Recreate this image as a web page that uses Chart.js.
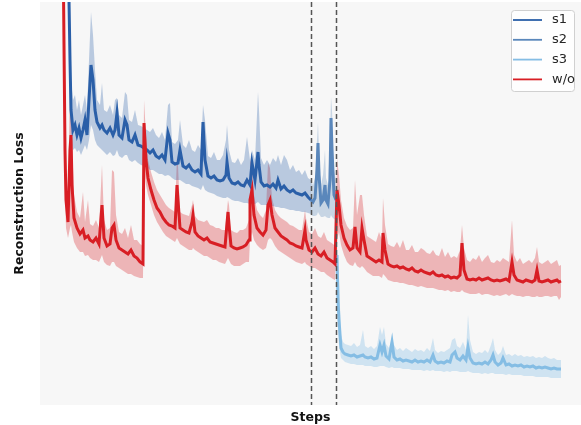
<!DOCTYPE html>
<html>
<head>
<meta charset="utf-8">
<script src="https://cdn.jsdelivr.net/npm/chart.js@4.4.1/dist/chart.umd.min.js"></script>
<style>
  html, body { margin: 0; padding: 0; background: #fff; }
  #wrap { width: 581px; height: 425px; }
</style>
</head>
<body>
<div id="wrap"><canvas id="chart" width="581" height="425"></canvas></div>
<script>
// steps where the training phase changes (dashed lines)
const phaseSteps = [27100, 29600]

// w/o : baseline run
const woSteps = [2300, 2500, 2600, 2800, 3000, 3100, 3200, 3400, 3700, 4000, 4300, 4500, 4800, 5000, 5300, 5600, 5900, 6200, 6400, 6700, 7000, 7200, 7400, 7600, 7900, 8200, 8500, 8800, 9100, 9400, 9700, 10000, 10300, 10400, 10600, 10800, 11100, 11400, 11700, 12000, 12300, 12600, 12900, 13200, 13500, 13700, 13800, 14000, 14300, 14600, 14900, 15200, 15300, 15500, 15800, 16100, 16400, 16700, 17000, 17300, 17600, 17900, 18200, 18500, 18800, 18900, 19100, 19400, 19700, 20000, 20300, 20600, 20900, 21000, 21200, 21400, 21700, 22000, 22300, 22600, 22800, 23000, 23200, 23500, 23800, 24100, 24400, 24700, 25000, 25300, 25600, 25900, 26200, 26500, 26600, 26900, 27200, 27500, 27800, 28100, 28400, 28700, 29000, 29300, 29500, 29700, 29900, 30100, 30400, 30700, 31000, 31300, 31500, 31700, 32000, 32200, 32400, 32700, 33000, 33300, 33600, 33900, 34200, 34300, 34500, 34800, 35100, 35400, 35700, 36000, 36300, 36600, 36900, 37200, 37500, 37800, 38100, 38400, 38700, 39000, 39300, 39600, 39900, 40200, 40500, 40800, 41100, 41400, 41700, 42000, 42200, 42400, 42700, 43000, 43300, 43600, 43900, 44200, 44500, 44800, 45100, 45400, 45700, 46000, 46300, 46600, 46900, 47200, 47400, 47700, 48000, 48300, 48600, 48900, 49200, 49500, 49700, 49900, 50200, 50500, 50800, 51100, 51400, 51700, 51900, 52100]
const woLoss = [4.65, 2.55, 2.05, 1.83, 2.55, 2.70, 2.20, 1.87, 1.77, 1.71, 1.75, 1.67, 1.69, 1.65, 1.63, 1.67, 1.61, 2.00, 1.67, 1.59, 1.61, 1.77, 1.80, 1.65, 1.57, 1.55, 1.53, 1.51, 1.55, 1.49, 1.47, 1.43, 1.41, 2.82, 2.45, 2.27, 2.15, 2.05, 1.97, 1.93, 1.87, 1.83, 1.80, 1.79, 1.77, 2.20, 2.05, 1.77, 1.75, 1.73, 1.72, 1.83, 1.90, 1.73, 1.69, 1.67, 1.65, 1.67, 1.63, 1.62, 1.61, 1.60, 1.59, 1.58, 1.93, 1.80, 1.59, 1.57, 1.56, 1.57, 1.58, 1.60, 1.65, 2.05, 2.15, 1.90, 1.77, 1.73, 1.70, 1.75, 2.00, 2.05, 1.90, 1.77, 1.73, 1.69, 1.67, 1.65, 1.62, 1.61, 1.59, 1.58, 1.57, 1.75, 1.65, 1.55, 1.53, 1.57, 1.51, 1.49, 1.53, 1.47, 1.45, 1.43, 1.41, 2.15, 2.00, 1.80, 1.67, 1.60, 1.55, 1.57, 1.78, 1.57, 1.53, 1.77, 1.65, 1.49, 1.47, 1.45, 1.43, 1.45, 1.43, 1.72, 1.55, 1.41, 1.39, 1.38, 1.39, 1.37, 1.38, 1.36, 1.35, 1.37, 1.34, 1.33, 1.35, 1.33, 1.32, 1.31, 1.33, 1.30, 1.29, 1.30, 1.28, 1.29, 1.27, 1.28, 1.27, 1.30, 1.62, 1.35, 1.26, 1.25, 1.26, 1.25, 1.27, 1.25, 1.26, 1.27, 1.25, 1.24, 1.25, 1.24, 1.25, 1.26, 1.24, 1.43, 1.30, 1.25, 1.24, 1.23, 1.25, 1.24, 1.23, 1.25, 1.35, 1.24, 1.23, 1.24, 1.25, 1.23, 1.24, 1.25, 1.23, 1.24]
const woUpper = [4.65, 2.95, 2.35, 2.05, 3.28, 3.25, 2.65, 2.10, 1.93, 1.87, 2.13, 1.83, 2.05, 1.81, 1.79, 1.85, 1.77, 2.40, 1.85, 1.75, 1.77, 2.35, 2.33, 1.90, 1.73, 1.71, 1.77, 1.67, 1.80, 1.65, 1.65, 1.61, 1.59, 3.05, 2.70, 2.45, 2.33, 2.23, 2.15, 2.10, 2.05, 2.00, 1.97, 1.95, 1.93, 2.50, 2.40, 1.93, 1.91, 1.90, 1.89, 2.00, 2.05, 1.89, 1.85, 1.84, 1.83, 1.85, 1.80, 1.79, 1.77, 1.77, 1.75, 1.75, 2.05, 2.00, 1.75, 1.73, 1.72, 1.75, 1.75, 1.77, 1.85, 2.45, 2.40, 2.10, 1.95, 1.90, 1.87, 1.95, 2.42, 2.37, 2.07, 1.95, 1.90, 1.87, 1.85, 1.83, 1.80, 1.79, 1.77, 1.75, 1.75, 1.95, 1.87, 1.73, 1.71, 1.77, 1.69, 1.67, 1.73, 1.65, 1.63, 1.61, 1.59, 2.47, 2.30, 2.05, 1.87, 1.79, 1.75, 1.77, 2.25, 1.90, 2.10, 2.10, 1.90, 1.69, 1.67, 1.65, 1.63, 1.73, 1.65, 2.07, 1.80, 1.61, 1.59, 1.58, 1.63, 1.57, 1.65, 1.55, 1.55, 1.60, 1.53, 1.53, 1.57, 1.55, 1.52, 1.51, 1.55, 1.50, 1.49, 1.57, 1.48, 1.53, 1.47, 1.49, 1.47, 1.55, 1.80, 1.57, 1.45, 1.43, 1.47, 1.45, 1.50, 1.43, 1.47, 1.50, 1.43, 1.42, 1.45, 1.43, 1.47, 1.45, 1.43, 1.85, 1.50, 1.43, 1.47, 1.41, 1.43, 1.45, 1.42, 1.47, 1.58, 1.43, 1.41, 1.43, 1.45, 1.41, 1.43, 1.45, 1.39, 1.40]
const woLower = [4.65, 2.10, 1.77, 1.67, 1.77, 1.80, 1.73, 1.63, 1.57, 1.53, 1.53, 1.49, 1.50, 1.47, 1.45, 1.45, 1.43, 1.50, 1.43, 1.40, 1.39, 1.43, 1.43, 1.39, 1.37, 1.35, 1.33, 1.31, 1.31, 1.29, 1.28, 1.27, 1.27, 2.40, 2.20, 2.10, 2.00, 1.90, 1.83, 1.78, 1.73, 1.69, 1.67, 1.65, 1.63, 1.67, 1.65, 1.61, 1.59, 1.57, 1.55, 1.55, 1.57, 1.55, 1.53, 1.51, 1.49, 1.49, 1.47, 1.45, 1.45, 1.43, 1.42, 1.41, 1.47, 1.45, 1.41, 1.39, 1.39, 1.39, 1.41, 1.43, 1.43, 1.65, 1.73, 1.65, 1.60, 1.57, 1.55, 1.57, 1.65, 1.67, 1.65, 1.59, 1.55, 1.53, 1.51, 1.49, 1.47, 1.45, 1.43, 1.42, 1.41, 1.43, 1.41, 1.39, 1.37, 1.37, 1.35, 1.33, 1.33, 1.30, 1.28, 1.26, 1.25, 1.65, 1.73, 1.60, 1.50, 1.43, 1.40, 1.39, 1.43, 1.39, 1.37, 1.39, 1.37, 1.33, 1.31, 1.29, 1.29, 1.29, 1.27, 1.31, 1.29, 1.25, 1.24, 1.23, 1.23, 1.22, 1.22, 1.21, 1.20, 1.20, 1.19, 1.18, 1.19, 1.18, 1.17, 1.17, 1.17, 1.16, 1.15, 1.15, 1.14, 1.15, 1.13, 1.14, 1.13, 1.13, 1.15, 1.13, 1.12, 1.11, 1.11, 1.11, 1.12, 1.10, 1.11, 1.11, 1.10, 1.09, 1.10, 1.09, 1.10, 1.11, 1.09, 1.11, 1.10, 1.09, 1.09, 1.08, 1.09, 1.09, 1.08, 1.08, 1.09, 1.08, 1.08, 1.09, 1.09, 1.08, 1.09, 1.09, 1.05, 1.08]

// s1 : first stage
const s1Steps = [2800, 3000, 3100, 3300, 3500, 3700, 3900, 4100, 4300, 4500, 4700, 4900, 5100, 5300, 5500, 5700, 6000, 6200, 6400, 6700, 7000, 7300, 7500, 7700, 7900, 8200, 8500, 8700, 8900, 9200, 9500, 9800, 10100, 10400, 10700, 11000, 11300, 11600, 11900, 12200, 12500, 12800, 13000, 13200, 13500, 13800, 14000, 14300, 14600, 14900, 15200, 15500, 15800, 16100, 16300, 16500, 16800, 17100, 17400, 17700, 18000, 18300, 18600, 18700, 18900, 19200, 19500, 19800, 20100, 20400, 20700, 21000, 21200, 21500, 21800, 21900, 22100, 22400, 22700, 23000, 23300, 23600, 23800, 24100, 24400, 24700, 25000, 25300, 25600, 25900, 26200, 26500, 26800, 27100]
const s1Loss = [4.65, 3.45, 2.95, 2.75, 2.80, 2.70, 2.77, 2.67, 2.75, 2.85, 2.70, 3.05, 3.40, 3.25, 2.95, 2.83, 2.77, 2.80, 2.75, 2.72, 2.77, 2.70, 2.75, 2.92, 2.70, 2.67, 2.85, 2.80, 2.65, 2.63, 2.70, 2.60, 2.59, 2.57, 2.55, 2.52, 2.55, 2.49, 2.47, 2.50, 2.45, 2.72, 2.65, 2.43, 2.41, 2.42, 2.55, 2.39, 2.37, 2.40, 2.35, 2.33, 2.35, 2.31, 2.83, 2.45, 2.29, 2.27, 2.29, 2.25, 2.24, 2.25, 2.30, 2.43, 2.27, 2.22, 2.21, 2.23, 2.20, 2.19, 2.25, 2.20, 2.42, 2.25, 2.53, 2.40, 2.23, 2.19, 2.20, 2.18, 2.21, 2.17, 2.25, 2.16, 2.19, 2.15, 2.13, 2.15, 2.12, 2.11, 2.10, 2.12, 2.08, 2.05]
const s1Upper = [4.65, 3.85, 3.25, 3.05, 3.10, 2.95, 3.05, 2.90, 3.00, 3.10, 2.95, 3.45, 3.93, 3.70, 3.35, 3.05, 3.00, 3.22, 2.95, 2.93, 3.00, 2.90, 3.05, 3.07, 2.90, 2.87, 3.13, 3.10, 2.85, 2.83, 2.95, 2.80, 2.79, 2.77, 2.75, 2.73, 2.77, 2.70, 2.67, 2.73, 2.65, 3.00, 3.02, 2.63, 2.61, 2.65, 2.85, 2.60, 2.57, 2.65, 2.55, 2.53, 2.60, 2.55, 3.00, 2.85, 2.49, 2.47, 2.53, 2.45, 2.45, 2.50, 2.65, 2.80, 2.55, 2.43, 2.42, 2.47, 2.40, 2.45, 2.68, 2.45, 2.55, 2.45, 3.13, 2.95, 2.47, 2.40, 2.45, 2.40, 2.47, 2.43, 2.50, 2.40, 2.50, 2.45, 2.35, 2.40, 2.33, 2.35, 2.30, 2.35, 2.27, 2.25]
const s1Lower = [4.65, 2.95, 2.65, 2.55, 2.57, 2.53, 2.55, 2.50, 2.55, 2.60, 2.55, 2.65, 2.80, 2.75, 2.65, 2.60, 2.57, 2.55, 2.53, 2.50, 2.53, 2.49, 2.50, 2.55, 2.49, 2.47, 2.50, 2.50, 2.45, 2.43, 2.45, 2.42, 2.40, 2.39, 2.38, 2.35, 2.35, 2.33, 2.31, 2.31, 2.29, 2.30, 2.29, 2.27, 2.25, 2.25, 2.25, 2.23, 2.21, 2.21, 2.19, 2.18, 2.17, 2.15, 2.20, 2.15, 2.13, 2.12, 2.11, 2.09, 2.08, 2.07, 2.07, 2.08, 2.07, 2.05, 2.04, 2.04, 2.03, 2.02, 2.02, 2.01, 2.01, 2.01, 2.03, 2.02, 2.00, 2.00, 2.00, 1.99, 1.99, 1.98, 1.98, 1.97, 1.97, 1.96, 1.95, 1.95, 1.94, 1.94, 1.93, 1.93, 1.92, 1.91]

// s2 : second stage
const s2Steps = [27100, 27300, 27500, 27700, 27800, 27900, 28100, 28300, 28500, 28600, 28800, 29000, 29100, 29200, 29400, 29600]
const s2Loss = [2.05, 2.03, 2.07, 2.35, 2.62, 2.30, 2.02, 2.05, 2.20, 2.05, 2.01, 2.25, 2.87, 2.55, 2.10, 2.05]
const s2Upper = [2.25, 2.20, 2.27, 2.65, 2.83, 2.55, 2.20, 2.30, 2.55, 2.27, 2.20, 2.65, 3.08, 2.95, 2.35, 2.25]
const s2Lower = [1.90, 1.89, 1.89, 1.90, 1.93, 1.91, 1.88, 1.88, 1.89, 1.88, 1.87, 1.87, 1.90, 1.88, 1.86, 1.85]

// s3 : third stage
const s3Steps = [29700, 29800, 29900, 30100, 30300, 30500, 30800, 31100, 31400, 31700, 32000, 32300, 32500, 32800, 33100, 33400, 33700, 34000, 34200, 34400, 34600, 34900, 35200, 35400, 35700, 36000, 36300, 36600, 36900, 37200, 37500, 37800, 38100, 38400, 38700, 39000, 39300, 39500, 39800, 40100, 40400, 40700, 41000, 41200, 41500, 41700, 42000, 42300, 42600, 42800, 43000, 43300, 43600, 43900, 44200, 44500, 44800, 45100, 45300, 45500, 45800, 46100, 46300, 46600, 46900, 47200, 47500, 47800, 48100, 48400, 48700, 49000, 49300, 49600, 49900, 50200, 50500, 50800, 51100, 51400, 51700, 52100]
const s3Loss = [1.50, 1.05, 0.85, 0.57, 0.53, 0.51, 0.50, 0.49, 0.50, 0.48, 0.49, 0.50, 0.48, 0.47, 0.48, 0.46, 0.47, 0.60, 0.53, 0.60, 0.49, 0.46, 0.63, 0.48, 0.45, 0.46, 0.44, 0.45, 0.44, 0.43, 0.45, 0.43, 0.44, 0.43, 0.45, 0.43, 0.50, 0.44, 0.42, 0.43, 0.42, 0.44, 0.43, 0.50, 0.53, 0.47, 0.45, 0.49, 0.45, 0.58, 0.47, 0.42, 0.41, 0.42, 0.41, 0.43, 0.41, 0.45, 0.50, 0.43, 0.40, 0.42, 0.47, 0.40, 0.41, 0.39, 0.40, 0.39, 0.40, 0.38, 0.39, 0.38, 0.39, 0.37, 0.38, 0.37, 0.38, 0.37, 0.36, 0.37, 0.36, 0.36]
const s3Upper = [1.65, 1.25, 1.25, 0.70, 0.63, 0.61, 0.60, 0.59, 0.62, 0.58, 0.60, 0.75, 0.59, 0.57, 0.59, 0.56, 0.59, 0.78, 0.70, 0.78, 0.61, 0.57, 0.67, 0.60, 0.55, 0.57, 0.54, 0.57, 0.55, 0.53, 0.56, 0.54, 0.55, 0.53, 0.57, 0.54, 0.67, 0.55, 0.52, 0.54, 0.53, 0.55, 0.57, 0.65, 0.67, 0.59, 0.57, 0.63, 0.55, 0.90, 0.65, 0.53, 0.51, 0.53, 0.52, 0.55, 0.52, 0.60, 0.67, 0.55, 0.50, 0.53, 0.59, 0.50, 0.51, 0.49, 0.51, 0.49, 0.50, 0.48, 0.49, 0.48, 0.49, 0.47, 0.48, 0.47, 0.49, 0.47, 0.46, 0.47, 0.45, 0.45]
const s3Lower = [1.30, 0.75, 0.60, 0.47, 0.45, 0.43, 0.42, 0.41, 0.41, 0.40, 0.40, 0.40, 0.39, 0.39, 0.39, 0.38, 0.38, 0.39, 0.39, 0.39, 0.38, 0.37, 0.38, 0.37, 0.37, 0.37, 0.36, 0.36, 0.36, 0.35, 0.35, 0.35, 0.35, 0.34, 0.35, 0.34, 0.35, 0.34, 0.34, 0.34, 0.33, 0.34, 0.33, 0.34, 0.34, 0.34, 0.33, 0.33, 0.33, 0.34, 0.33, 0.32, 0.32, 0.32, 0.31, 0.32, 0.31, 0.32, 0.32, 0.31, 0.31, 0.31, 0.31, 0.30, 0.31, 0.30, 0.30, 0.30, 0.30, 0.29, 0.29, 0.29, 0.29, 0.28, 0.28, 0.28, 0.28, 0.28, 0.27, 0.27, 0.27, 0.27]

const series = [
  { label: 's1', steps: s1Steps, loss: s1Loss, upper: s1Upper, lower: s1Lower, color: '#2a5fa8', band: 'rgba(42,95,168,0.30)' },
  { label: 's2', steps: s2Steps, loss: s2Loss, upper: s2Upper, lower: s2Lower, color: '#5a87bb', band: 'rgba(90,135,187,0.30)' },
  { label: 's3', steps: s3Steps, loss: s3Loss, upper: s3Upper, lower: s3Lower, color: '#85bde4', band: 'rgba(133,189,228,0.35)' },
  { label: 'w/o', steps: woSteps, loss: woLoss, upper: woUpper, lower: woLower, color: '#d81e24', band: 'rgba(216,30,36,0.30)' }
]

const pts = (steps, vals) => steps.map((s, i) => ({ x: s, y: vals[i] }))

const datasets = []
series.forEach(s => {
  datasets.push({
    label: s.label + ' band', data: pts(s.steps, s.upper), fill: '+1',
    backgroundColor: s.band, borderWidth: 0, pointRadius: 0, order: 3, band: true
  })
  datasets.push({
    label: s.label + ' band low', data: pts(s.steps, s.lower), fill: false,
    borderWidth: 0, pointRadius: 0, order: 3, band: true
  })
})
series.forEach(s => {
  datasets.push({
    label: s.label, data: pts(s.steps, s.loss), fill: false,
    borderColor: s.color, borderWidth: 3, pointRadius: 0, order: s.label === 'w/o' ? 1 : 2
  })
})

const bgPlugin = {
  id: 'bg',
  beforeDraw(chart) {
    const { ctx, chartArea: a } = chart
    ctx.save()
    ctx.fillStyle = '#f7f7f7'
    ctx.fillRect(a.left, a.top, a.right - a.left, a.bottom - a.top)
    ctx.restore()
  }
}

const phasePlugin = {
  id: 'phases',
  afterDatasetsDraw(chart) {
    const { ctx, chartArea: a, scales } = chart
    ctx.save()
    ctx.strokeStyle = '#555'
    ctx.lineWidth = 1.5
    ctx.setLineDash([5, 3])
    phaseSteps.forEach(st => {
      const x = Math.round(scales.x.getPixelForValue(st)) + 0.5
      ctx.beginPath()
      ctx.moveTo(x, a.top)
      ctx.lineTo(x, a.bottom)
      ctx.stroke()
    })
    ctx.restore()
  }
}

const legendPlugin = {
  id: 'boxLegend',
  afterDraw(chart) {
    const { ctx } = chart
    const items = chart.data.datasets.filter(d => !d.band)
    const left = 511, top = 10, w = 63, h = 81, r = 3
    ctx.save()
    ctx.beginPath()
    ctx.roundRect(left + 0.5, top + 0.5, w, h, r)
    ctx.fillStyle = 'rgba(255,255,255,0.85)'
    ctx.fill()
    ctx.strokeStyle = '#d0d0d0'
    ctx.lineWidth = 1
    ctx.stroke()
    ctx.font = '13px "DejaVu Sans"'
    ctx.textBaseline = 'middle'
    items.forEach((d, i) => {
      const y = 20 + i * 19.8
      ctx.strokeStyle = d.borderColor
      ctx.lineWidth = 1.8
      ctx.beginPath()
      ctx.moveTo(513, y)
      ctx.lineTo(542, y)
      ctx.stroke()
      ctx.fillStyle = '#262626'
      ctx.fillText(d.label, 552, y)
    })
    ctx.restore()
  }
}

new Chart(document.getElementById('chart'), {
  type: 'line',
  data: { datasets },
  options: {
    responsive: false,
    animation: false,
    devicePixelRatio: 1,
    layout: { padding: { top: 2, right: 0, left: 0, bottom: 0 } },
    elements: { line: { tension: 0 } },
    plugins: { legend: { display: false }, tooltip: { enabled: false } },
    scales: {
      x: {
        type: 'linear', min: 0, max: 54100,
        ticks: { display: false }, grid: { display: false }, border: { display: false },
        title: { display: true, text: 'Steps', color: '#111', padding: { top: 0, bottom: 0 },
          font: { family: 'DejaVu Sans', size: 12.5, weight: 'bold' } },
        afterFit(scale) { scale.height = 20 }
      },
      y: {
        min: 0, max: 4.03,
        ticks: { display: false }, grid: { display: false }, border: { display: false },
        title: { display: true, text: 'Reconstruction Loss', color: '#111', padding: { top: 12, bottom: 0 },
          font: { family: 'DejaVu Sans', size: 12.5, weight: 'bold' } },
        afterFit(scale) { scale.width = 40 }
      }
    }
  },
  plugins: [bgPlugin, phasePlugin, legendPlugin]
})
</script>
</body>
</html>
